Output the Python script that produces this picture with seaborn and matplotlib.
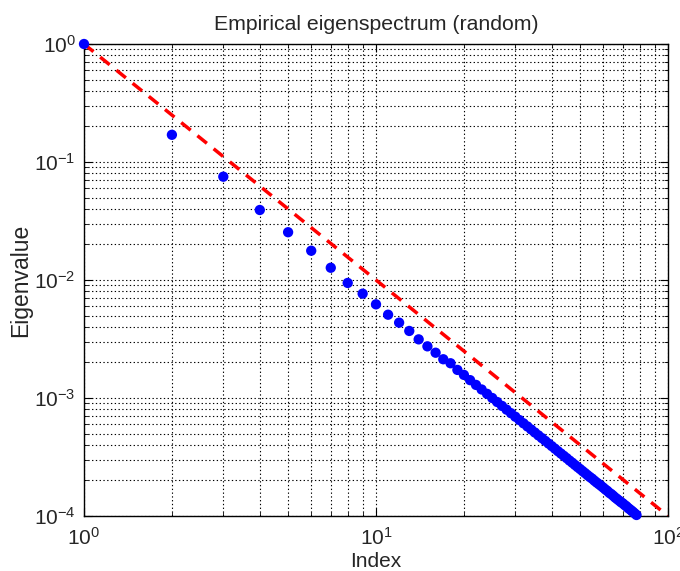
import numpy as np
import pandas as pd
import matplotlib
matplotlib.use("Agg")
import matplotlib.pyplot as plt
import seaborn as sns
from matplotlib.ticker import LogLocator, NullFormatter

# ---- data ----
index = list(range(1, 79))
eigenvalue = [
    1.0, 0.170, 0.0751, 0.0392, 0.0254, 0.0177, 0.0127, 0.00944, 0.00766, 0.00622,
    0.00508, 0.00435, 0.00370, 0.00314, 0.00274, 0.00242, 0.00213, 0.00197, 0.00173, 0.00157,
    1.417e-3, 1.291e-3, 1.181e-3, 1.085e-3, 1.000e-3, 9.25e-4, 8.57e-4, 7.97e-4, 7.43e-4, 6.94e-4,
    6.50e-4, 6.10e-4, 5.74e-4, 5.41e-4, 5.10e-4, 4.82e-4, 4.57e-4, 4.33e-4, 4.11e-4, 3.91e-4,
    3.72e-4, 3.54e-4, 3.38e-4, 3.23e-4, 3.09e-4, 2.95e-4, 2.83e-4, 2.71e-4, 2.60e-4, 2.50e-4,
    2.40e-4, 2.31e-4, 2.22e-4, 2.14e-4, 2.07e-4, 1.99e-4, 1.92e-4, 1.86e-4, 1.80e-4, 1.74e-4,
    1.68e-4, 1.63e-4, 1.57e-4, 1.53e-4, 1.48e-4, 1.43e-4, 1.39e-4, 1.35e-4, 1.31e-4, 1.28e-4,
    1.24e-4, 1.21e-4, 1.17e-4, 1.14e-4, 1.11e-4, 1.08e-4, 1.05e-4, 1.02e-4,
]
ref_x = [1, 100]
ref_y = [1.0, 1e-4]

title = "Empirical eigenspectrum (random)"
xlabel = "Index"
ylabel = "Eigenvalue"

df = pd.DataFrame({"Index": index, "Eigenvalue": eigenvalue})
ref = pd.DataFrame({"x": ref_x, "y": ref_y})

sns.set_style("ticks")
plt.rcParams["font.family"] = ["Liberation Sans", "DejaVu Sans"]
plt.rcParams["mathtext.fontset"] = "custom"
plt.rcParams["mathtext.rm"] = "Liberation Sans"
plt.rcParams["mathtext.it"] = "Liberation Sans"

fig = plt.figure(figsize=(6.8, 5.71), dpi=100)
ax = fig.add_axes([84 / 680, 1 - 516 / 571, (668 - 84) / 680, (516 - 44) / 571])

ax.set_xscale("log")
ax.set_yscale("log")

sns.lineplot(data=ref, x="x", y="y", ax=ax, color="#ff0000", linewidth=2.5,
             linestyle=(0, (3.5, 2.5)), zorder=2)
sns.scatterplot(data=df, x="Index", y="Eigenvalue", ax=ax, color="#0000ff",
                s=55, edgecolor="none", zorder=3, clip_on=False)

ax.set_xlim(1, 100)
ax.set_ylim(1e-4, 1)

ax.xaxis.set_major_locator(LogLocator(base=10))
ax.yaxis.set_major_locator(LogLocator(base=10))
ax.xaxis.set_minor_locator(LogLocator(base=10, subs=np.arange(2, 10)))
ax.yaxis.set_minor_locator(LogLocator(base=10, subs=np.arange(2, 10)))
ax.xaxis.set_minor_formatter(NullFormatter())
ax.yaxis.set_minor_formatter(NullFormatter())

ax.grid(True, which="both", color="black", linestyle=(0, (1.2, 2.2)), linewidth=0.8)
ax.set_axisbelow(True)

for s in ax.spines.values():
    s.set_visible(True)
    s.set_color("black")
    s.set_linewidth(1.0)

ax.tick_params(which="both", direction="in", top=True, right=True, color="black")
ax.tick_params(which="major", length=6, labelsize=15)
ax.tick_params(axis="x", which="major", pad=8)
ax.tick_params(axis="y", which="major", pad=6)
ax.tick_params(which="minor", length=3)

ax.set_title(title, fontsize=15.3, pad=10)
ax.set_xlabel(xlabel, fontsize=15, labelpad=2)
ax.set_ylabel(ylabel, fontsize=16.5, labelpad=1)

fig.savefig("out.png", dpi=100, facecolor="white")
